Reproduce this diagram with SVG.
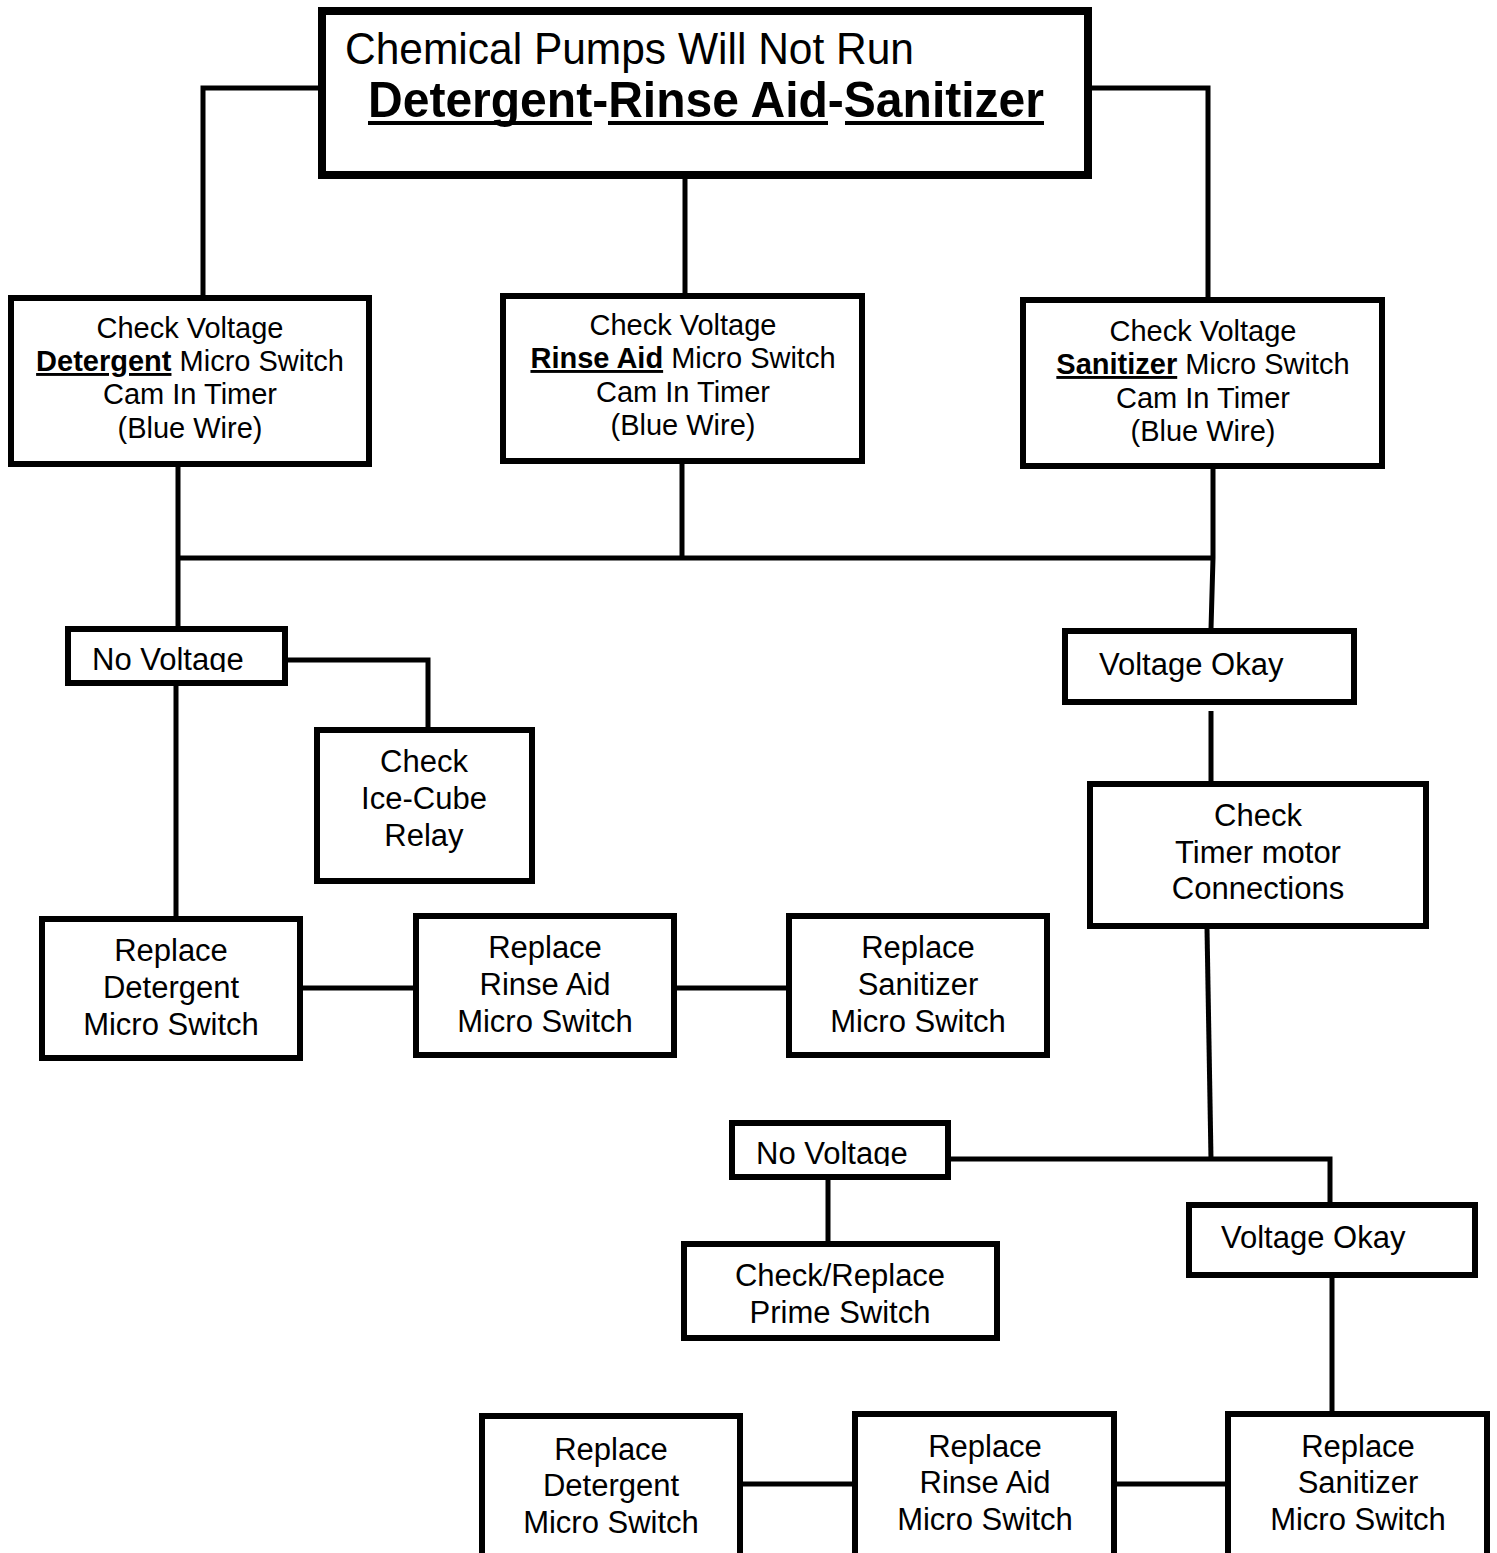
<svg xmlns="http://www.w3.org/2000/svg" width="1497" height="1553" viewBox="0 0 1497 1553">
<style>
.box{fill:#fff;stroke:#000;stroke-width:6}
.big{stroke-width:8}
.ln{fill:none;stroke:#000;stroke-width:5;stroke-linejoin:miter;stroke-linecap:butt}
.ul{stroke:#000;stroke-width:4}
text{font-family:"Liberation Sans",Arial,sans-serif;fill:#000}
.t29{font-size:29px;text-anchor:middle}
.t31{font-size:31px;text-anchor:middle}
.l31{font-size:31px}
.b{font-weight:bold;text-decoration:underline}
</style>
<defs>
<clipPath id="c1"><rect x="68" y="629" width="217" height="43"/></clipPath>
<clipPath id="c2"><rect x="732" y="1123" width="216" height="43"/></clipPath>
</defs>
<rect width="1497" height="1553" fill="#fff"/>
<g id="connectors">
<polyline class="ln" points="318,88 203,88 203,296"/>
<polyline class="ln" points="1092,88 1208,88 1208,298"/>
<line class="ln" x1="685" y1="179" x2="685" y2="294"/>
<line class="ln" x1="178" y1="466" x2="178" y2="627"/>
<line class="ln" x1="682" y1="463" x2="682" y2="558"/>
<polyline class="ln" points="1213,468 1213,558 1211,629"/>
<line class="ln" x1="176" y1="558" x2="1215" y2="558"/>
<polyline class="ln" points="287,660 428,660 428,729"/>
<line class="ln" x1="176" y1="685" x2="176" y2="918"/>
<line class="ln" x1="302" y1="988" x2="414" y2="988"/>
<line class="ln" x1="676" y1="988" x2="787" y2="988"/>
<line class="ln" x1="1211" y1="711" x2="1211" y2="782"/>
<polyline class="ln" points="1207,928 1211,1159"/>
<polyline class="ln" points="950,1159 1330,1159 1330,1204"/>
<line class="ln" x1="828" y1="1179" x2="828" y2="1243"/>
<line class="ln" x1="1332" y1="1277" x2="1332" y2="1414"/>
<line class="ln" x1="742" y1="1484" x2="853" y2="1484"/>
<line class="ln" x1="1116" y1="1484" x2="1226" y2="1484"/>
</g>
<g id="title">
<rect class="box big" x="322" y="11" width="766" height="164"/>
<text x="345" y="64" font-size="44" textLength="569" lengthAdjust="spacingAndGlyphs">Chemical Pumps Will Not Run</text>
<text x="368" y="117" font-size="50" font-weight="bold" textLength="676" lengthAdjust="spacingAndGlyphs">Detergent-Rinse Aid-Sanitizer</text>
<line class="ul" x1="368" y1="123" x2="592" y2="123"/>
<line class="ul" x1="608" y1="123" x2="828" y2="123"/>
<line class="ul" x1="845" y1="123" x2="1044" y2="123"/>
</g>
<g id="check-detergent">
<rect class="box" x="11" y="298" width="358" height="166"/>
<text class="t29" x="190" y="338">Check Voltage</text>
<text class="t29" x="190" y="371"><tspan class="b">Detergent</tspan> Micro Switch</text>
<text class="t29" x="190" y="404">Cam In Timer</text>
<text class="t29" x="190" y="438">(Blue Wire)</text>
</g>
<g id="check-rinse">
<rect class="box" x="503" y="296" width="359" height="165"/>
<text class="t29" x="683" y="335">Check Voltage</text>
<text class="t29" x="683" y="368"><tspan class="b">Rinse Aid</tspan> Micro Switch</text>
<text class="t29" x="683" y="402">Cam In Timer</text>
<text class="t29" x="683" y="435">(Blue Wire)</text>
</g>
<g id="check-sanitizer">
<rect class="box" x="1023" y="300" width="359" height="166"/>
<text class="t29" x="1203" y="341">Check Voltage</text>
<text class="t29" x="1203" y="374"><tspan class="b">Sanitizer</tspan> Micro Switch</text>
<text class="t29" x="1203" y="408">Cam In Timer</text>
<text class="t29" x="1203" y="441">(Blue Wire)</text>
</g>
<g id="no-voltage-1">
<rect class="box" x="68" y="629" width="217" height="54"/>
<text class="l31" x="92" y="670" clip-path="url(#c1)">No Voltage</text>
</g>
<g id="ice-cube">
<rect class="box" x="317" y="730" width="215" height="151"/>
<text class="t31" x="424" y="772">Check</text>
<text class="t31" x="424" y="809">Ice-Cube</text>
<text class="t31" x="424" y="846">Relay</text>
</g>
<g id="replace-det-1">
<rect class="box" x="42" y="919" width="258" height="139"/>
<text class="t31" x="171" y="961">Replace</text>
<text class="t31" x="171" y="998">Detergent</text>
<text class="t31" x="171" y="1035">Micro Switch</text>
</g>
<g id="replace-rinse-1">
<rect class="box" x="416" y="916" width="258" height="139"/>
<text class="t31" x="545" y="958">Replace</text>
<text class="t31" x="545" y="995">Rinse Aid</text>
<text class="t31" x="545" y="1032">Micro Switch</text>
</g>
<g id="replace-san-1">
<rect class="box" x="789" y="916" width="258" height="139"/>
<text class="t31" x="918" y="958">Replace</text>
<text class="t31" x="918" y="995">Sanitizer</text>
<text class="t31" x="918" y="1032">Micro Switch</text>
</g>
<g id="voltage-okay-1">
<rect class="box" x="1065" y="631" width="289" height="71"/>
<text class="l31" x="1099" y="675">Voltage Okay</text>
</g>
<g id="timer-motor">
<rect class="box" x="1090" y="784" width="336" height="142"/>
<text class="t31" x="1258" y="826">Check</text>
<text class="t31" x="1258" y="863">Timer motor</text>
<text class="t31" x="1258" y="899">Connections</text>
</g>
<g id="no-voltage-2">
<rect class="box" x="732" y="1123" width="216" height="54"/>
<text class="l31" x="756" y="1164" clip-path="url(#c2)">No Voltage</text>
</g>
<g id="prime-switch">
<rect class="box" x="684" y="1244" width="313" height="94"/>
<text class="t31" x="840" y="1286">Check/Replace</text>
<text class="t31" x="840" y="1323">Prime Switch</text>
</g>
<g id="voltage-okay-2">
<rect class="box" x="1189" y="1205" width="286" height="70"/>
<text class="l31" x="1221" y="1248">Voltage Okay</text>
</g>
<g id="replace-det-2">
<rect class="box" x="482" y="1416" width="258" height="160"/>
<text class="t31" x="611" y="1460">Replace</text>
<text class="t31" x="611" y="1496">Detergent</text>
<text class="t31" x="611" y="1533">Micro Switch</text>
</g>
<g id="replace-rinse-2">
<rect class="box" x="855" y="1414" width="259" height="160"/>
<text class="t31" x="985" y="1457">Replace</text>
<text class="t31" x="985" y="1493">Rinse Aid</text>
<text class="t31" x="985" y="1530">Micro Switch</text>
</g>
<g id="replace-san-2">
<rect class="box" x="1228" y="1414" width="259" height="160"/>
<text class="t31" x="1358" y="1457">Replace</text>
<text class="t31" x="1358" y="1493">Sanitizer</text>
<text class="t31" x="1358" y="1530">Micro Switch</text>
</g>
</svg>
